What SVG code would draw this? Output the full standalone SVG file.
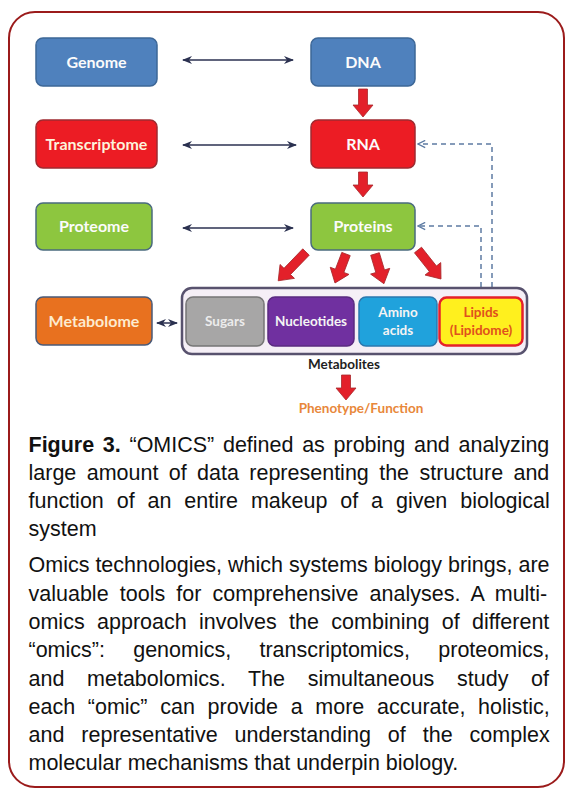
<svg xmlns="http://www.w3.org/2000/svg" width="572" height="795" viewBox="0 0 572 795">
<style>
.lbl{font-family:Lato,"Open Sans",sans-serif;font-weight:700;font-size:16px;text-anchor:middle;fill:#fbfbfb}
.sm{font-family:Lato,"Open Sans",sans-serif;font-weight:700;font-size:13.5px;text-anchor:middle}
.body{font-family:"Liberation Sans",Arial,sans-serif;font-size:21.5px;fill:#111}
.blk{stroke:#2b3150;stroke-width:1.5;fill:none}
.dash{stroke:#5d7ba3;stroke-width:1.5;fill:none;stroke-dasharray:5 4}
.red{fill:#e3202a;stroke:#a8282c;stroke-width:0.8}
</style>
<defs>
<marker id="ah" viewBox="0 0 10 8" refX="9" refY="4" markerWidth="10" markerHeight="8" markerUnits="userSpaceOnUse" orient="auto-start-reverse">
<path d="M0,0 L10,4 L0,8 L3,4 Z" fill="#2b3150"/>
</marker>
<marker id="dh" viewBox="0 0 10 10" refX="9" refY="5" markerWidth="9" markerHeight="9" markerUnits="userSpaceOnUse" orient="auto">
<path d="M1,1 L9,5 L1,9" fill="none" stroke="#5d7ba3" stroke-width="1.5"/>
</marker>
</defs>
<rect x="9" y="12" width="555" height="775" rx="26" fill="#fff" stroke="#9b1b1b" stroke-width="2"/>

<g id="connectors">
<line class="blk" x1="183" y1="60" x2="293" y2="60" marker-start="url(#ah)" marker-end="url(#ah)"/>
<line class="blk" x1="183" y1="145" x2="296" y2="145" marker-start="url(#ah)" marker-end="url(#ah)"/>
<line class="blk" x1="183" y1="228" x2="293" y2="228" marker-start="url(#ah)" marker-end="url(#ah)"/>
<line class="blk" x1="157" y1="323" x2="177" y2="323" marker-start="url(#ah)" marker-end="url(#ah)"/>
<path class="dash" d="M492,296 V144 H418" marker-end="url(#dh)"/>
<path class="dash" d="M481,296 V226 H418" marker-end="url(#dh)"/>
<path class="red" transform="translate(363,89)" d="M-4.5,0 H4.5 V16 H10 L0,28 L-10,16 H-4.5 Z"/>
<path class="red" transform="translate(363,172)" d="M-4.5,0 H4.5 V13 H10 L0,25 L-10,13 H-4.5 Z"/>
<path class="red" transform="translate(346,375)" d="M-4.5,0 H4.5 V13 H10 L0,25 L-10,13 H-4.5 Z"/>
<path class="red" transform="translate(306,252) rotate(44)" d="M-4.5,0 H4.5 V27 H10 L0,40 L-10,27 H-4.5 Z"/>
<path class="red" transform="translate(346,254) rotate(20.8)" d="M-4.5,0 H4.5 V18 H10 L0,31 L-10,18 H-4.5 Z"/>
<path class="red" transform="translate(375,254) rotate(-16.7)" d="M-4.5,0 H4.5 V18 H10 L0,31 L-10,18 H-4.5 Z"/>
<path class="red" transform="translate(418,250) rotate(-38.4)" d="M-4.5,0 H4.5 V24 H10 L0,37 L-10,24 H-4.5 Z"/>
</g>

<g id="genome"><rect x="36" y="38" width="121" height="48" rx="7" fill="#4f81bd" stroke="#3d6797" stroke-width="1.5"/><text class="lbl" x="96.5" y="67.5">Genome</text></g>
<g id="dna"><rect x="311" y="38" width="104" height="48" rx="7" fill="#4f81bd" stroke="#3d6797" stroke-width="1.5"/><text class="lbl" x="363" y="67.5">DNA</text></g>
<g id="transcriptome"><rect x="36" y="120" width="121" height="48" rx="7" fill="#ec1c24" stroke="#9e2a30" stroke-width="1.5"/><text class="lbl" x="96.5" y="149.5" style="fill:#fdf3dc">Transcriptome</text></g>
<g id="rna"><rect x="311" y="120" width="104" height="48" rx="7" fill="#ec1c24" stroke="#9e2a30" stroke-width="1.5"/><text class="lbl" x="363" y="149.5">RNA</text></g>
<g id="proteome"><rect x="36" y="203" width="116" height="47" rx="7" fill="#8dc63f" stroke="#4a6b7e" stroke-width="1.5"/><text class="lbl" x="94" y="232">Proteome</text></g>
<g id="proteins"><rect x="311" y="203" width="104" height="47" rx="7" fill="#8dc63f" stroke="#4a6b7e" stroke-width="1.5"/><text class="lbl" x="363" y="232">Proteins</text></g>
<g id="metabolome"><rect x="36" y="297" width="116" height="48" rx="7" fill="#e8711f" stroke="#4a5a78" stroke-width="1.5"/><text class="lbl" x="94" y="326.5" style="fill:#fdebcf">Metabolome</text></g>

<g id="metabolites">
<rect x="182" y="288" width="345" height="66" rx="10" fill="#f5eff6" stroke="#58526e" stroke-width="2.5"/>
<text class="sm" x="344" y="369" style="fill:#1e1e1e">Metabolites</text>
</g>
<g id="sugars"><rect x="186" y="297" width="78" height="49" rx="7" fill="#a7a6a6" stroke="#767676" stroke-width="1.5"/><text class="sm" x="225" y="326" style="fill:#ececec">Sugars</text></g>
<g id="nucleotides"><rect x="268" y="297" width="86" height="49" rx="7" fill="#7030a0" stroke="#5a2a80" stroke-width="1.5"/><text class="sm" x="311" y="326" style="fill:#f4f4f4">Nucleotides</text></g>
<g id="amino"><rect x="359" y="297" width="78" height="49" rx="7" fill="#20a2dc" stroke="#2a78ae" stroke-width="1.5"/><text class="sm" x="398" y="317" style="fill:#f4f4f4">Amino</text><text class="sm" x="398" y="335" style="fill:#f4f4f4">acids</text></g>
<g id="lipids"><rect x="439.5" y="297.5" width="83" height="48" rx="7" fill="#fff01e" stroke="#e5202a" stroke-width="2.5"/><text class="sm" x="481" y="317" style="fill:#e0501c">Lipids</text><text class="sm" x="481" y="335" style="fill:#e0501c">(Lipidome)</text></g>
<g id="phenotype"><text class="sm" x="361" y="413" style="fill:#e8873a">Phenotype/Function</text></g>

<g id="caption" class="body">
<text x="28.5" y="452" word-spacing="2.7"><tspan font-weight="700">Figure 3.</tspan> “OMICS” defined as probing and analyzing</text>
<text x="28.5" y="480" word-spacing="4.4">large amount of data representing the structure and</text>
<text x="28.5" y="508" word-spacing="6.9">function of an entire makeup of a given biological</text>
<text x="28.5" y="536">system</text>
<text x="28.5" y="572">Omics technologies, which systems biology brings, are</text>
<text x="28.5" y="601" word-spacing="5.2">valuable tools for comprehensive analyses. A multi-</text>
<text x="28.5" y="629" word-spacing="6.4">omics approach involves the combining of different</text>
<text x="28.5" y="657" word-spacing="22.3">“omics”: genomics, transcriptomics, proteomics,</text>
<text x="28.5" y="686" word-spacing="16.7">and metabolomics. The simultaneous study of</text>
<text x="28.5" y="714" word-spacing="6.7">each “omic” can provide a more accurate, holistic,</text>
<text x="28.5" y="742" word-spacing="11">and representative understanding of the complex</text>
<text x="28.5" y="770">molecular mechanisms that underpin biology.</text>
</g>
</svg>
